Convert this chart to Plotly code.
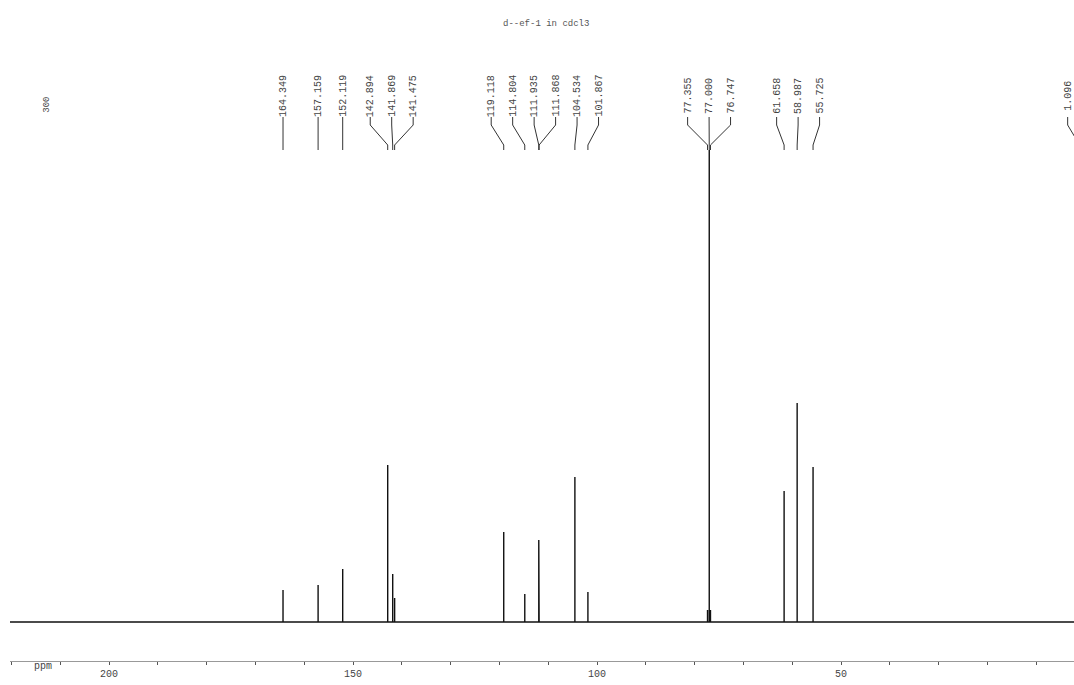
import plotly.graph_objects as go

# ---- data (13C NMR, ppm) ----
peak_ppm = [164.349, 157.159, 152.119, 142.894, 141.869, 141.475,
            119.118, 114.804, 111.935, 111.868, 104.534, 101.867,
            77.355, 77.000, 76.747,
            61.658, 58.987, 55.725, 1.096]
peak_height = [32, 37, 53, 157, 48, 24,
               90, 28, 82, 40, 145, 30,
               12, 472, 12,
               131, 219, 155, 0]
tick_vals = [200, 150, 100, 50]
title_text = "d--ef-1 in cdcl3"
corner_text = "300"

# ---- layout constants ----
W, H = 1074, 685
X_LEFT, X_RIGHT = 220.3, 2.25
BASE_PX = 622          # pixel row of the baseline
AXIS_PX = 661          # pixel row of the ppm axis
Y_MIN, Y_MAX = -(H - BASE_PX), BASE_PX

def py(pix):           # pixel row -> data y
    return BASE_PX - pix

# label positions: spread labels apart so they don't overlap
order = sorted(range(len(peak_ppm)), key=lambda i: -peak_ppm[i])
pos = [peak_ppm[i] for i in order]
d = 4.4
for _ in range(2000):
    for k in range(len(pos) - 1):
        gap = pos[k] - pos[k + 1]
        if gap < d:
            s = (d - gap) / 2
            pos[k] += s
            pos[k + 1] -= s
label_x = [0.0] * len(peak_ppm)
for k, i in enumerate(order):
    label_x[i] = max(pos[k], X_RIGHT + 1.3)

fig = go.Figure()

# spectrum: baseline + spikes
sx, sy = [X_LEFT], [0]
for i in order:
    p, h = peak_ppm[i], peak_height[i]
    sx += [p, p, p]
    sy += [0, h, 0]
sx.append(X_RIGHT)
sy.append(0)
fig.add_trace(go.Scatter(x=sx, y=sy, mode="lines",
                         line=dict(color="#111111", width=1.4),
                         hoverinfo="skip", showlegend=False))

# connectors from labels to peaks
cx, cy = [], []
for i, p in enumerate(peak_ppm):
    lx = label_x[i]
    cx += [lx, lx, p, p, None]
    cy += [py(117), py(125), py(145), py(150), None]
fig.add_trace(go.Scatter(x=cx, y=cy, mode="lines",
                         line=dict(color="#333333", width=1),
                         hoverinfo="skip", showlegend=False))

annotations = []
for i, p in enumerate(peak_ppm):
    annotations.append(dict(x=label_x[i], y=py(96), xref="x", yref="y",
                            text=f"{p:.3f}", textangle=-90, showarrow=False,
                            font=dict(family="Liberation Mono", size=10, color="#444444")))
annotations.append(dict(x=541 / W, y=(H - 17) / H, xref="paper", yref="paper",
                        text=title_text, showarrow=False,
                        font=dict(family="Liberation Mono", size=9, color="#555555")))
annotations.append(dict(x=30 / W, y=(H - 95) / H, xref="paper", yref="paper",
                        text=corner_text, textangle=-90, showarrow=False,
                        font=dict(family="Liberation Mono", size=9, color="#444444")))
annotations.append(dict(x=22 / W, y=(H - 674) / H, xref="paper", yref="paper",
                        text="ppm", showarrow=False,
                        font=dict(family="Liberation Mono", size=10, color="#444444")))

minor = list(range(220, 0, -10))
fig.update_layout(
    width=W, height=H,
    margin=dict(l=10, r=0, t=0, b=0, pad=0, autoexpand=False),
    paper_bgcolor="white", plot_bgcolor="white",
    showlegend=False,
    annotations=annotations,
    xaxis=dict(range=[X_LEFT, X_RIGHT], anchor="free", position=(H - AXIS_PX) / H,
               automargin=False,
               showgrid=False, zeroline=False, showline=True, linecolor="#999999",
               linewidth=1, ticks="outside", ticklen=3, tickcolor="#555555",
               tickvals=minor,
               ticktext=[str(v) if v in tick_vals else "" for v in minor],
               tickfont=dict(family="Liberation Mono", size=10, color="#444444")),
    yaxis=dict(range=[Y_MIN, Y_MAX], visible=False, domain=[0, 1], automargin=False),
)
fig.write_html("out.html", config={"displayModeBar": False})

# remove the browser's default page margin so the figure sits at (0, 0)
with open("out.html", encoding="utf-8") as f:
    html = f.read()
html = html.replace("<head>", "<head><style>html,body{margin:0;padding:0;overflow:hidden;}</style>", 1)
with open("out.html", "w", encoding="utf-8") as f:
    f.write(html)
